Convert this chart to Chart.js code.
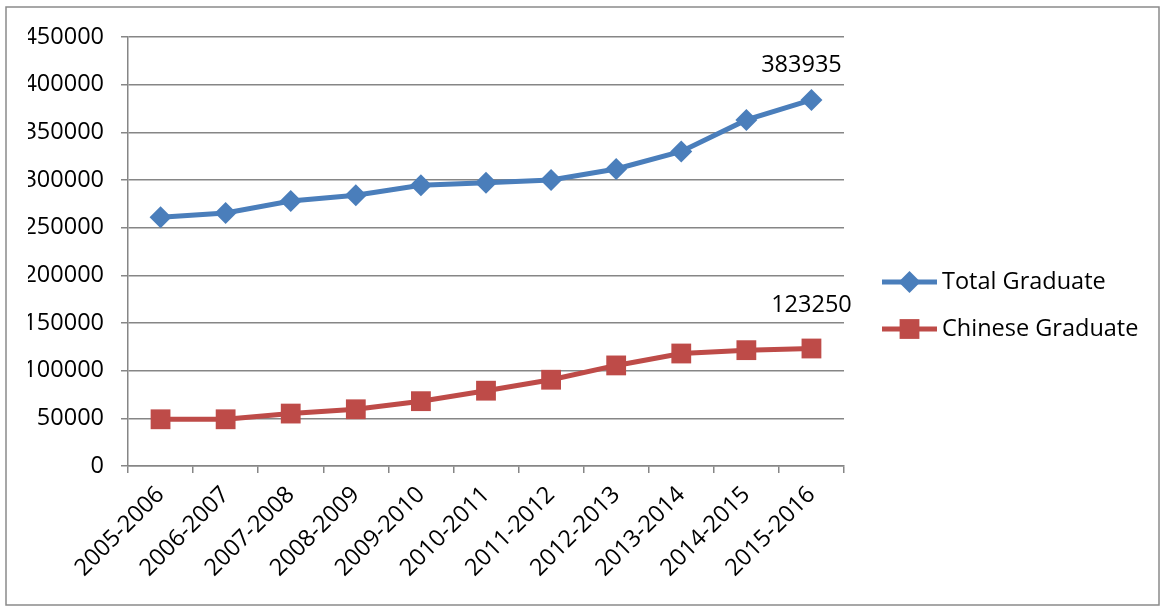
<!DOCTYPE html>
<html>
<head>
<meta charset="utf-8">
<script src="https://cdn.jsdelivr.net/npm/chart.js@4.4.1/dist/chart.umd.min.js"></script>
<style>
  html, body { margin: 0; padding: 0; background: #fff; }
  #wrap { position: relative; width: 1165px; height: 610px; }
</style>
</head>
<body>
<div id="wrap"><canvas id="gradChart" width="1165" height="610"></canvas></div>
<script>
// Academic years on the x axis
const years = ['2005-2006', '2006-2007', '2007-2008', '2008-2009', '2009-2010', '2010-2011',
               '2011-2012', '2012-2013', '2013-2014', '2014-2015', '2015-2016'];

// Values (last points are labelled in the original)
const totalGraduate = [261000, 265500, 278000, 284000, 294500, 297000, 300000, 311500, 330000, 363000, 383935];
const chineseGraduate = [49000, 49000, 55000, 59500, 68000, 79000, 90500, 105500, 118000, 121500, 123250];

// Y axis tick labels
const yTicks = [0, 50000, 100000, 150000, 200000, 250000, 300000, 350000, 400000, 450000];

const FONT = '"Open Sans", "DejaVu Sans", sans-serif';
const FONT_SIZE = 23.5;
const BLUE = '#4a7ebb';
const RED = '#be4b48';
const GRID = '#868686';

/**
 * Outer frame round the whole chart
 */
const framePlugin = {
    id: 'frame',
    beforeDraw(chart) {
        const ctx = chart.ctx;
        ctx.save();
        ctx.fillStyle = '#fff';
        ctx.fillRect(0, 0, chart.width, chart.height);
        ctx.strokeStyle = '#8a8a8a';
        ctx.lineWidth = 1.5;
        ctx.strokeRect(6, 7, chart.width - 12, chart.height - 12);
        ctx.restore();
    }
};

/**
 * Value label above the last point of each series
 */
const lastLabelPlugin = {
    id: 'lastLabel',
    afterDatasetsDraw(chart, args, opts) {
        const ctx = chart.ctx;
        ctx.save();
        ctx.font = FONT_SIZE + 'px ' + FONT;
        ctx.fillStyle = '#000';
        ctx.textAlign = 'center';
        ctx.textBaseline = 'middle';
        chart.data.datasets.forEach((ds, i) => {
            const meta = chart.getDatasetMeta(i);
            const last = meta.data[meta.data.length - 1];
            const off = opts.offsets[i];
            ctx.fillText(String(ds.data[ds.data.length - 1]), last.x + off[0], last.y + off[1]);
        });
        ctx.restore();
    }
};

/**
 * Legend on the right: line with the marker in the middle
 */
const sideLegendPlugin = {
    id: 'sideLegend',
    afterDraw(chart, args, opts) {
        const ctx = chart.ctx;
        ctx.save();
        chart.data.datasets.forEach((ds, i) => {
            const y = opts.top + i * opts.gap;
            const x0 = opts.left;
            const x1 = opts.left + 55;
            const cx = (x0 + x1) / 2;
            const r = ds.pointRadius;
            ctx.strokeStyle = ds.borderColor;
            ctx.lineWidth = 5;
            ctx.beginPath();
            ctx.moveTo(x0, y);
            ctx.lineTo(x1, y);
            ctx.stroke();
            ctx.fillStyle = ds.pointBackgroundColor;
            ctx.beginPath();
            if (ds.pointStyle === 'rectRot') {
                ctx.moveTo(cx - r, y);
                ctx.lineTo(cx, y - r);
                ctx.lineTo(cx + r, y);
                ctx.lineTo(cx, y + r);
            } else {
                const s = Math.SQRT1_2 * r;
                ctx.rect(cx - s, y - s, 2 * s, 2 * s);
            }
            ctx.closePath();
            ctx.fill();
            ctx.fillStyle = '#000';
            ctx.font = FONT_SIZE + 'px ' + FONT;
            ctx.textAlign = 'left';
            ctx.textBaseline = 'middle';
            ctx.fillText(ds.label, x1 + 5, y);
        });
        ctx.restore();
    }
};

new Chart(document.getElementById('gradChart'), {
    type: 'line',
    data: {
        labels: years,
        datasets: [{
            label: 'Total Graduate',
            data: totalGraduate,
            borderColor: BLUE,
            backgroundColor: BLUE,
            pointBackgroundColor: BLUE,
            pointBorderColor: BLUE,
            pointStyle: 'rectRot',
            pointRadius: 11,
            pointBorderWidth: 0,
            borderWidth: 5,
            tension: 0
        }, {
            label: 'Chinese Graduate',
            data: chineseGraduate,
            borderColor: RED,
            backgroundColor: RED,
            pointBackgroundColor: RED,
            pointBorderColor: RED,
            pointStyle: 'rect',
            pointRadius: 14,
            pointBorderWidth: 0,
            borderWidth: 5,
            tension: 0
        }]
    },
    plugins: [framePlugin, lastLabelPlugin, sideLegendPlugin],
    options: {
        responsive: false,
        animation: false,
        events: [],
        layout: {
            padding: { left: 28, right: 321, top: 37, bottom: 0 }
        },
        plugins: {
            legend: { display: false },
            tooltip: { enabled: false },
            lastLabel: { offsets: [[-10, -35], [0, -43]] },
            sideLegend: { left: 882, top: 282, gap: 47 }
        },
        scales: {
            x: {
                offset: true,
                grid: {
                    offset: true,
                    drawOnChartArea: false,
                    drawTicks: true,
                    tickLength: 7,
                    color: GRID,
                    lineWidth: 1.5
                },
                border: { color: GRID, width: 1.5 },
                ticks: {
                    color: '#000',
                    font: { family: FONT, size: FONT_SIZE },
                    minRotation: 45,
                    maxRotation: 45,
                    padding: 8,
                    autoSkip: false
                },
                afterFit(scale) {
                    scale.height = 610 - 466;
                }
            },
            y: {
                min: 0,
                max: 450000,
                afterBuildTicks(scale) {
                    scale.ticks = yTicks.map(v => ({ value: v }));
                },
                grid: {
                    color: GRID,
                    lineWidth: 1.5,
                    drawTicks: true,
                    tickLength: 7
                },
                border: { color: GRID, width: 1.5 },
                ticks: {
                    color: '#000',
                    font: { family: FONT, size: FONT_SIZE },
                    padding: 17,
                    callback: function(value) {
                        return String(value);
                    }
                },
                afterFit(scale) {
                    scale.width = 100;
                }
            }
        }
    }
});
</script>
</body>
</html>
